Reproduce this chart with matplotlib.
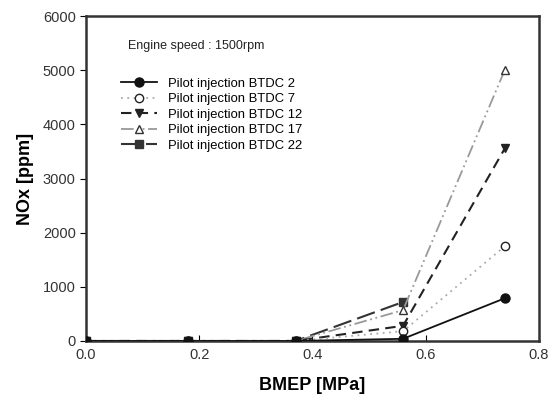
import matplotlib
matplotlib.use("Agg")
import matplotlib.pyplot as plt

plt.rcParams['font.family'] = ['Liberation Sans', 'DejaVu Sans']

# BMEP [MPa]
bmep = [0.0, 0.18, 0.37, 0.56, 0.74]

# NOx [ppm] for each pilot injection timing
btdc2 = [0, 0, 0, 40, 790]
btdc7 = [0, 0, 0, 180, 1750]
btdc12 = [0, 0, 0, 280, 3560]
btdc17 = [0, 0, 0, 570, 5010]
btdc22 = [0, 0, 0, 720]

fig = plt.figure(figsize=(5.59, 4.04), dpi=100)
ax = fig.add_axes([0.154, 0.156, 0.81, 0.804])

ax.plot(bmep, btdc2, color='#111111', lw=1.3, marker='o', ms=6.5, zorder=7,
        label='Pilot injection BTDC 2')
ax.plot(bmep, btdc7, color='#aaaaaa', lw=1.3, ls=(0, (1, 2.5)), marker='o', ms=6,
        mfc='white', mec='#222222', zorder=6, label='Pilot injection BTDC 7')
ax.plot(bmep, btdc12, color='#222222', lw=1.5, ls=(0, (5, 3)), marker='v', ms=6,
        zorder=5, label='Pilot injection BTDC 12')
ax.plot(bmep, btdc17, color='#999999', lw=1.3, ls=(0, (7, 2, 1, 2, 1, 2)), marker='^', ms=6,
        mfc='white', mec='#333333', zorder=4, label='Pilot injection BTDC 17')
ax.plot(bmep[:4], btdc22, color='#333333', lw=1.5, ls=(0, (9, 3)), marker='s', ms=6,
        zorder=3, label='Pilot injection BTDC 22')

ax.set_xlim(0, 0.8)
ax.set_ylim(0, 6000)
ax.set_xticks([0.0, 0.2, 0.4, 0.6, 0.8])
ax.set_xticklabels(['0.0', '0.2', '0.4', '0.6', '0.8'])
ax.set_yticks(range(0, 6001, 1000))
ax.tick_params(axis='x', direction='in', length=4, labelsize=10.5, labelcolor='#333333', pad=5)
ax.tick_params(axis='y', direction='out', length=4, labelsize=10.5, labelcolor='#333333')
for s in ax.spines.values():
    s.set_linewidth(1.8)
    s.set_color('#333333')

ax.set_xlabel('BMEP [MPa]', fontsize=13, fontweight='bold', labelpad=11)
ax.set_ylabel('NOx [ppm]', fontsize=13, fontweight='bold', labelpad=6)

ax.text(0.093, 0.9, 'Engine speed : 1500rpm', transform=ax.transAxes, fontsize=9, color='#222222')
ax.legend(loc='upper left', bbox_to_anchor=(0.065, 0.826), frameon=False, fontsize=9.4,
          handlelength=2.8, handletextpad=0.8, labelspacing=0.25, borderaxespad=0)

fig.savefig('out.png', dpi=100)
